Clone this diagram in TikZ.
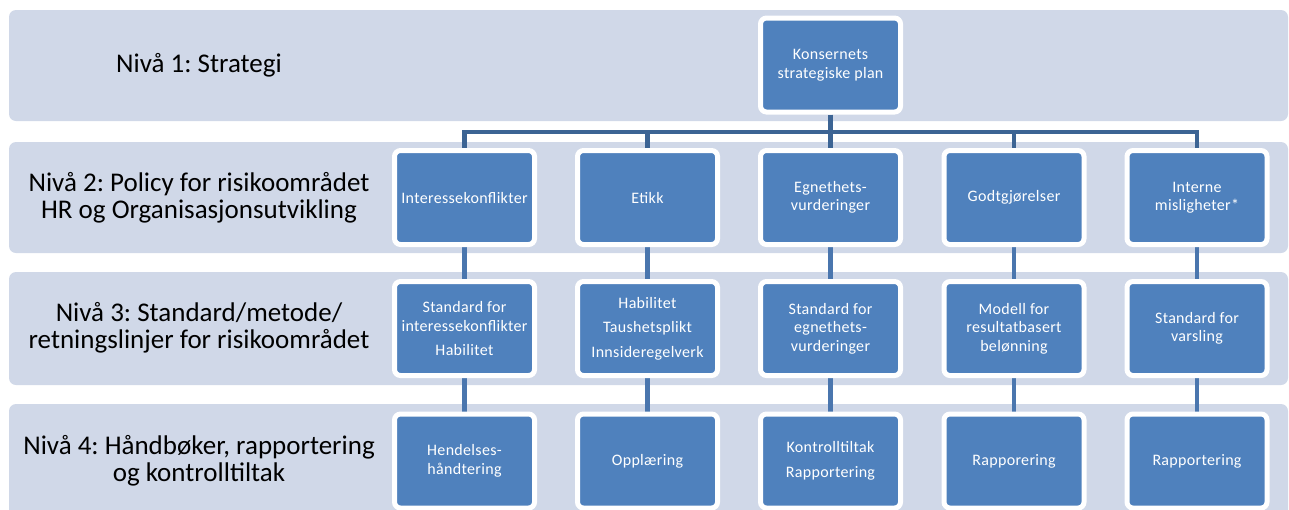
\documentclass[tikz,border=0pt]{standalone}
\usepackage{fontspec}
\setmainfont{Carlito}
\newfontfamily\boxfont[LetterSpace=2]{Carlito}
\usetikzlibrary{backgrounds}
\frenchspacing

\definecolor{bandgrey}{HTML}{D0D8E8}
\definecolor{boxblue}{HTML}{4F81BD}
\definecolor{bardark}{HTML}{3C6494}
\definecolor{stemblue}{HTML}{4A76AE}

\tikzset{
	band/.style={fill=bandgrey, rounded corners=7pt},
	levelbox/.style={rectangle, rounded corners=6pt, fill=boxblue, draw=white, line width=5pt,
		minimum width=140pt, minimum height=94pt, inner sep=2pt, align=center, text=white,
		font=\boxfont\fontsize{16}{18.5}\selectfont},
	levellabel/.style={align=center, font=\fontsize{27}{27}\selectfont},
	treeline/.style={draw=bardark, line width=4.5pt},
	stem/.style={draw=stemblue, line width=4.5pt},
}

\begin{document}
\begin{tikzpicture}[x=1pt,y=-1pt]
	\useasboundingbox (0,0) rectangle (1289,509);

	% draw bands
	\begin{scope}[on background layer]
	\fill[band] (9,10) rectangle (1288,121);
	\fill[band] (9,142) rectangle (1288,253);
	\fill[band] (9,272) rectangle (1288,385);
	\fill[band] (9,404) rectangle (1288,530);
	\end{scope}

	% draw level labels
	\node[levellabel] (niva1) at (199,65) {Nivå 1: Strategi};
	\node[levellabel] (niva2) at (199,198) {Nivå 2: Policy for risikoområdet\\HR og Organisasjonsutvikling};
	\node[levellabel] (niva3) at (199,328) {Nivå 3: Standard/metode/\\retningslinjer for risikoområdet};
	\node[levellabel] (niva4) at (199,461) {Nivå 4: Håndbøker, rapportering\\og kontrolltiltak};

	% draw boxes
	\node[levelbox] (plan) at (830.5,65) {Konsernets\\strategiske plan};

	\node[levelbox] (pol1) at (464.5,197.5) {Interessekonflikter};
	\node[levelbox] (pol2) at (647.5,197.5) {Etikk};
	\node[levelbox] (pol3) at (830.5,197.5) {Egnethets-\\vurderinger};
	\node[levelbox] (pol4) at (1014,197.5) {Godtgjørelser};
	\node[levelbox] (pol5) at (1197,197.5) {Interne\\misligheter*};

	\node[levelbox] (std1) at (464.5,328.5) {Standard for\\interessekonflikter\\[6pt]Habilitet};
	\node[levelbox] (std2) at (647.5,328.5) {Habilitet\\[6pt]Taushetsplikt\\[6pt]Innsideregelverk};
	\node[levelbox] (std3) at (830.5,328.5) {Standard for\\egnethets-\\vurderinger};
	\node[levelbox] (std4) at (1014,328.5) {Modell for\\resultatbasert\\belønning};
	\node[levelbox] (std5) at (1197,328.5) {Standard for\\varsling};

	\node[levelbox] (hb1) at (464.5,461) {Hendelses-\\håndtering};
	\node[levelbox] (hb2) at (647.5,461) {Opplæring};
	\node[levelbox] (hb3) at (830.5,461) {Kontrolltiltak\\[6pt]Rapportering};
	\node[levelbox] (hb4) at (1014,461) {Rapporering};
	\node[levelbox] (hb5) at (1197,461) {Rapportering};

	% draw connectors
	\coordinate (bar) at (0,132);
	\begin{scope}[on background layer]
	\foreach \n in {1,...,5}{
		\draw[treeline] (plan.south) -- (plan.south |- bar) -| (pol\n.north);
		\draw[stem] (pol\n.south) -- (std\n.north);
		\draw[stem] (std\n.south) -- (hb\n.north);
	}
	\end{scope}
\end{tikzpicture}
\end{document}
